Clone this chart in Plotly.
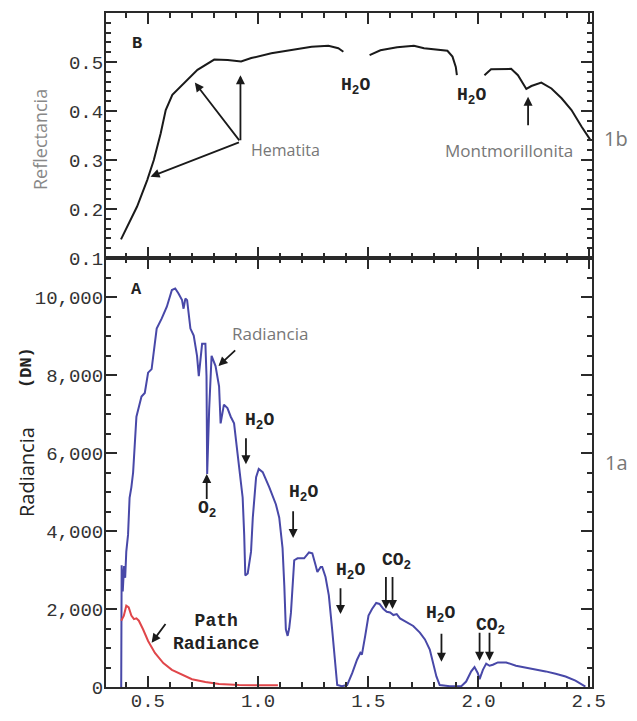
import plotly.graph_objects as go

# ---------------- data ----------------
# Panel B (top): reflectance, three segments separated by water bands
refl_x = [0.378, 0.451, 0.497, 0.527, 0.558, 0.581, 0.611, 0.664, 0.725, 0.801, 0.862, 0.923, 0.969,
          1.060, 1.152, 1.243, 1.319, 1.364, 1.387, None,
          1.506, 1.555, 1.631, 1.707, 1.753, 1.798, 1.859, 1.882, 1.897, 1.902, None,
          2.027, 2.057, 2.148, 2.179, 2.217, 2.240, 2.285, 2.331, 2.377, 2.422, 2.468, 2.506]
refl_y = [0.138, 0.205, 0.259, 0.300, 0.354, 0.402, 0.433, 0.457, 0.484, 0.505, 0.504, 0.501, 0.508,
          0.518, 0.524, 0.531, 0.533, 0.528, 0.521, None,
          0.514, 0.524, 0.530, 0.533, 0.528, 0.526, 0.523, 0.511, 0.490, 0.473, None,
          0.473, 0.485, 0.486, 0.473, 0.445, 0.451, 0.458, 0.446, 0.426, 0.402, 0.368, 0.342]

# Panel A (bottom): at-sensor radiance (DN)
rad_x = [0.379, 0.381, 0.386, 0.392, 0.397, 0.402, 0.410, 0.417, 0.425, 0.433, 0.448, 0.471, 0.486,
         0.501, 0.517, 0.532, 0.540, 0.563, 0.586, 0.609, 0.624, 0.639, 0.655, 0.662, 0.670, 0.678,
         0.693, 0.708, 0.723, 0.731, 0.746, 0.761, 0.766, 0.769, 0.773, 0.778, 0.789, 0.807, 0.823,
         0.830, 0.845, 0.861, 0.876, 0.891, 0.907, 0.922, 0.930, 0.937, 0.942, 0.953, 0.968, 0.976,
         0.991, 1.003, 1.021, 1.051, 1.081, 1.096, 1.111, 1.119, 1.126, 1.134, 1.141, 1.149, 1.164,
         1.179, 1.209, 1.231, 1.246, 1.261, 1.269, 1.284, 1.291, 1.306, 1.321, 1.336, 1.351, 1.359,
         1.380, 1.404, 1.427, 1.449, 1.464, 1.471, 1.486, 1.501, 1.517, 1.536, 1.551, 1.569, 1.584,
         1.599, 1.614, 1.629, 1.644, 1.674, 1.704, 1.734, 1.757, 1.779, 1.794, 1.809, 1.824, 1.870,
         1.922, 1.944, 1.967, 1.982, 1.997, 2.005, 2.020, 2.035, 2.050, 2.065, 2.088, 2.126, 2.170,
         2.230, 2.305, 2.350, 2.395, 2.440, 2.470, 2.485]
rad_y = [0, 3120, 2450, 3100, 2800, 3470, 3900, 4850, 5120, 5500, 6930, 7450, 7540,
         8060, 8150, 8750, 9190, 9450, 9750, 10180, 10220, 10090, 9920, 9700, 9960, 9920,
         9190, 9010, 8490, 7970, 8800, 8800, 7970, 5460, 6500, 7110, 8490, 8230, 7710,
         6760, 7240, 7150, 6930, 6760, 5980, 5160, 4860, 3900, 2860, 2910, 3470, 4340,
         5380, 5590, 5510, 5120, 4680, 4340, 3560, 2600, 1480, 1310, 1500, 1900, 3250,
         3300, 3300, 3450, 3430, 3120, 2950, 3080, 3080, 2820, 2350, 1480, 440, 50,
         20, 50, 355, 700, 875, 830, 1310, 1830, 2000, 2155, 2130, 2000, 1930,
         1910, 1845, 1870, 1760, 1670, 1565, 1395, 1220, 960, 615, 270, 50, 20,
         20, 140, 400, 510, 355, 200, 440, 600, 545, 570, 630, 630, 545,
         485, 400, 340, 270, 165, 50, 10]

# Path radiance
path_x = [0.379, 0.391, 0.402, 0.413, 0.425, 0.437, 0.448, 0.459, 0.478, 0.501, 0.532, 0.570,
          0.609, 0.655, 0.700, 0.761, 0.823, 0.914, 1.006, 1.090]
path_y = [1700, 1830, 2085, 2040, 1830, 1740, 1760, 1700, 1480, 1180, 875, 615,
          440, 310, 200, 130, 80, 50, 45, 45]

x_range = [0.31, 2.515]
x_tickvals = [0.5, 1.0, 1.5, 2.0, 2.5]
refl_range = [0.1, 0.6]
refl_tickvals = [0.1, 0.2, 0.3, 0.4, 0.5]
rad_range = [0, 11000]
rad_tickvals = [0, 2000, 4000, 6000, 8000, 10000]

MONO = "Liberation Mono"
SANS = "Open Sans"
AX = "#2a2a2a"
TICKFONT = dict(family=MONO, size=19, color="#333")

fig = go.Figure()
fig.add_trace(go.Scatter(x=refl_x, y=refl_y, mode="lines", xaxis="x2", yaxis="y2",
                         line=dict(color="#1a1a1a", width=2), connectgaps=False, showlegend=False))
fig.add_trace(go.Scatter(x=rad_x, y=rad_y, mode="lines", xaxis="x", yaxis="y",
                         line=dict(color="#4848a8", width=2), showlegend=False))
fig.add_trace(go.Scatter(x=path_x, y=path_y, mode="lines", xaxis="x", yaxis="y",
                         line=dict(color="#e0464a", width=2), showlegend=False))

split = 245 / 674.0
common_ax = dict(showline=True, linecolor=AX, linewidth=2, mirror="ticks", ticks="inside",
                 tickcolor=AX, tickwidth=2, showgrid=False, zeroline=False, automargin=False)

# page body has an 8px margin: figure is sized so that it fits the 637x721 window exactly
fig.update_layout(
    width=621, height=705,
    margin=dict(l=98, r=37, t=5, b=26, autoexpand=False),
    plot_bgcolor="white", paper_bgcolor="white",
    xaxis=dict(range=x_range, domain=[0, 1], anchor="y", tickvals=x_tickvals, tickformat=".1f",
               ticklen=11, tickfont=TICKFONT, ticklabelstandoff=-5,
               minor=dict(dtick=0.1, tick0=0.5, ticks="inside", ticklen=5, tickcolor=AX, tickwidth=2),
               **common_ax),
    yaxis=dict(range=rad_range, domain=[0, 1 - split], anchor="x", tickvals=rad_tickvals,
               tickformat=",d", ticklen=11, tickfont=TICKFONT, ticklabelstandoff=-3,
               minor=dict(dtick=500, ticks="inside", ticklen=5, tickcolor=AX, tickwidth=2),
               **common_ax),
    xaxis2=dict(range=x_range, domain=[0, 1], anchor="y2", matches="x", tickvals=x_tickvals,
                showticklabels=False, ticklen=11,
                minor=dict(dtick=0.1, tick0=0.5, ticks="inside", ticklen=5, tickcolor=AX, tickwidth=2),
                **common_ax),
    yaxis2=dict(range=refl_range, domain=[1 - split, 1], anchor="x2", tickvals=refl_tickvals,
                tickformat=".1f", ticklen=11, tickfont=TICKFONT, ticklabelstandoff=-3,
                minor=dict(dtick=0.02, ticks="inside", ticklen=5, tickcolor=AX, tickwidth=2),
                **common_ax),
)

ann = []

def label(x, y, text, ref="", size=18, font=MONO, color="#222", xanchor="center", yanchor="middle"):
    ann.append(dict(x=x, y=y, xref="x" + ref, yref="y" + ref, text=text, showarrow=False,
                    font=dict(family=font, size=size, color=color), xanchor=xanchor, yanchor=yanchor))

def arrow(x, y, ax, ay, ref=""):
    ann.append(dict(x=x, y=y, ax=ax, ay=ay, xref="x" + ref, yref="y" + ref,
                    axref="x" + ref, ayref="y" + ref, text="", showarrow=True,
                    arrowhead=2, arrowsize=1.0, arrowwidth=1.8, arrowcolor="#1a1a1a", standoff=0))

H2O = "<b>H<sub>2</sub>O</b>"
CO2 = "<b>CO<sub>2</sub></b>"

# ---- top panel annotations ----
label(0.451, 0.538, "<b>B</b>", ref="2", size=17)
label(0.961, 0.320, "Hematita", ref="2", size=16, font=SANS, color="#777", xanchor="left")
arrow(0.920, 0.473, 0.920, 0.337, ref="2")
arrow(0.713, 0.458, 0.920, 0.337, ref="2")
arrow(0.512, 0.266, 0.920, 0.337, ref="2")
label(1.44, 0.449, H2O, ref="2")
label(1.966, 0.429, H2O, ref="2")
arrow(2.225, 0.429, 2.225, 0.368, ref="2")
label(2.137, 0.320, "Montmorillonita", ref="2", size=17, font=SANS, color="#777")

# ---- bottom panel annotations ----
label(0.449, 10180, "<b>A</b>", size=17)
label(0.873, 9064, "Radiancia", size=17, font=SANS, color="#777", xanchor="left")
arrow(0.820, 8233, 0.903, 8666)
arrow(0.767, 5461, 0.767, 4779)
label(0.767, 4545, "<b>O<sub>2</sub></b>")
label(0.930, 6804, H2O, xanchor="left")
arrow(0.945, 5713, 0.945, 6415)
label(1.205, 4960, H2O)
arrow(1.159, 3818, 1.159, 4545)
label(1.419, 2960, H2O)
arrow(1.374, 1870, 1.374, 2571)
label(1.626, 3220, CO2)
arrow(1.580, 2000, 1.580, 2857)
arrow(1.610, 2000, 1.610, 2857)
label(1.827, 1870, H2O)
arrow(1.832, 649, 1.832, 1402)
label(2.054, 1558, CO2)
arrow(2.005, 675, 2.005, 1428)
arrow(2.050, 675, 2.050, 1428)
label(0.607, 1402, "<b>Path<br>Radiance</b>", size=18, xanchor="left")
arrow(0.517, 1135, 0.585, 1654)

# ---- axis titles and panel tags (paper coords; plot area spans 106..592 x 13..687 on screen) ----
def paper(px, py, text, size, font, color, angle=0):
    ann.append(dict(x=(px - 106) / 486.0, y=(687 - py) / 674.0, xref="paper", yref="paper",
                    text=text, showarrow=False, textangle=angle,
                    font=dict(family=font, size=size, color=color),
                    xanchor="center", yanchor="middle"))

paper(40, 140, "Reflectancia", 18, SANS, "#888", -90)
paper(27, 472, "Radiancia", 20, SANS, "#222", -90)
paper(27, 368, "<b>(DN)</b>", 17, MONO, "#222", -90)
paper(616, 138, "1b", 20, SANS, "#777")
paper(616, 462, "1a", 20, SANS, "#777")

fig.update_layout(annotations=ann)
fig.write_html("out.html")
